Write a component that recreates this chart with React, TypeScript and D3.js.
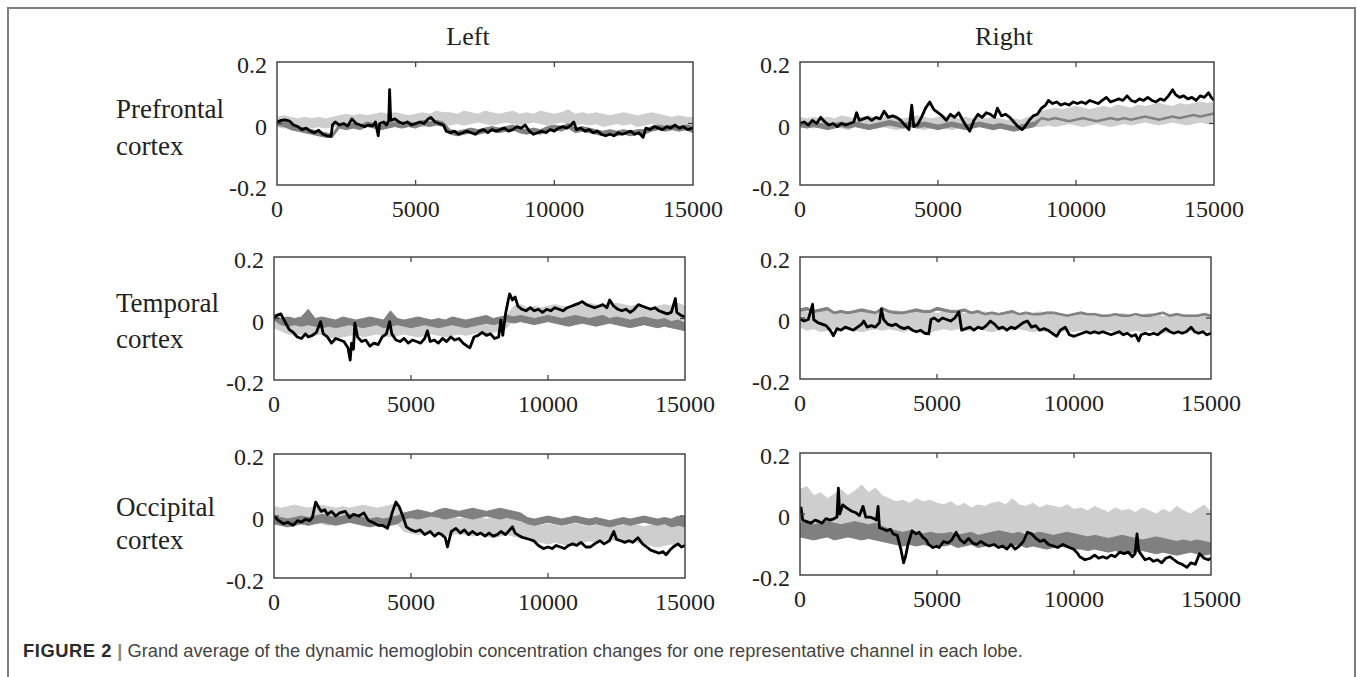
import React from 'react';
import * as d3 from 'd3';

// ---------- data ----------
const X_DOMAIN = [0, 15000];
const Y_DOMAIN = [-0.2, 0.2];
const X_TICKS = [0, 5000, 10000, 15000];
const Y_TICKS = [0.2, 0, -0.2];
const Y_TICK_LABELS = ['0.2', '0', '-0.2'];
const COLUMN_TITLES = ['Left', 'Right'];
const ROW_LABELS = [['Prefrontal', 'cortex'], ['Temporal', 'cortex'], ['Occipital', 'cortex']];
const CAPTION_BOLD = 'FIGURE 2';
const CAPTION_TEXT = 'Grand average of the dynamic hemoglobin concentration changes for one representative channel in each lobe.';
const ENVELOPE_STEP = 250; // samples between envelope readings

// Left prefrontal
const TL_LIGHT_HI = [.02,.025,.02,.015,.02,.015,.02,.015,.02,.025,.03,.025,.03,.025,.03,.035,.03,.035,.03,.025,.03,.035,.03,.04,.035,.035,.03,.04,.035,.03,.04,.035,.03,.035,.04,.03,.035,.03,.04,.035,.03,.035,.045,.03,.035,.03,.035,.03,.025,.03,.035,.03,.025,.03,.035,.03,.025,.02,.025,.02,.02];
const TL_LIGHT_LO = [-.01,-.015,-.01,-.015,-.01,-.015,-.01,-.015,-.01,-.01,-.005,-.01,-.005,-.01,-.005,0,-.005,-.01,-.005,0,-.005,-.01,-.005,0,-.005,-.005,0,-.005,0,.005,0,-.005,0,.005,0,-.005,0,.005,0,-.005,0,.005,0,-.005,0,-.005,0,-.01,-.005,0,-.005,0,-.01,-.005,0,-.005,-.01,-.005,-.01,-.005,-.01];
const TL_DARK_HI = [.01,.005,0,-.01,-.015,-.02,-.025,-.03,-.035,0,-.005,0,-.005,.005,0,-.005,0,.005,0,.005,0,.01,.005,.01,.005,-.02,-.025,-.02,-.015,-.02,-.015,-.01,-.015,-.01,-.005,-.015,-.02,-.015,-.02,-.01,-.005,-.01,0,-.015,-.01,-.015,-.02,-.025,-.02,-.025,-.02,-.025,-.02,-.02,-.01,-.005,-.01,-.005,-.01,-.005,-.01];
const TL_DARK_LO = [-.005,-.01,-.02,-.025,-.03,-.035,-.04,-.045,-.045,-.015,-.02,-.015,-.02,-.01,-.015,-.02,-.015,-.01,-.015,-.01,-.015,-.005,-.01,-.005,-.01,-.035,-.04,-.035,-.03,-.035,-.03,-.025,-.03,-.025,-.02,-.03,-.035,-.03,-.035,-.025,-.02,-.025,-.015,-.03,-.025,-.03,-.035,-.04,-.035,-.04,-.035,-.04,-.035,-.035,-.025,-.02,-.025,-.02,-.025,-.02,-.03];
const TL_BLACK = [[0,.005],[150,.01],[300,.012],[450,.008],[600,-.005],[750,-.01],[900,-.02],[1050,-.015],[1200,-.025],[1350,-.03],[1500,-.022],[1650,-.035],[1800,-.04],[1950,-.042],[2000,-.005],[2100,.005],[2250,-.005],[2400,0],[2550,-.008],[2700,.015],[2850,0],[3000,-.005],[3150,-.01],[3300,-.005],[3450,-.008],[3550,.005],[3650,-.04],[3700,0],[3850,.005],[3950,-.005],[4030,.01],[4060,.11],[4100,.01],[4250,.015],[4400,.005],[4550,0],[4700,.005],[4850,-.005],[5000,0],[5150,.005],[5300,0],[5450,.015],[5550,.02],[5700,.005],[5850,0],[6000,-.005],[6100,-.025],[6250,-.03],[6400,-.025],[6550,-.035],[6700,-.03],[6850,-.025],[7000,-.03],[7150,-.035],[7300,-.025],[7450,-.02],[7600,-.03],[7750,-.02],[7900,-.025],[8050,-.02],[8200,-.015],[8350,-.025],[8500,-.02],[8650,-.01],[8800,-.015],[8950,-.005],[9100,-.025],[9250,-.035],[9400,-.03],[9550,-.025],[9700,-.03],[9850,-.02],[10000,-.025],[10150,-.015],[10300,-.01],[10450,-.015],[10600,-.005],[10700,.005],[10800,-.02],[10950,-.015],[11100,-.025],[11250,-.02],[11400,-.03],[11550,-.025],[11700,-.035],[11850,-.04],[12000,-.035],[12150,-.04],[12300,-.03],[12450,-.035],[12600,-.03],[12750,-.025],[12900,-.035],[13050,-.03],[13200,-.045],[13300,-.015],[13450,-.02],[13600,-.01],[13750,-.015],[13900,-.02],[14050,-.01],[14200,-.015],[14350,-.005],[14500,-.015],[14650,-.01],[14800,-.02],[15000,-.015]];

// Right prefrontal
const TR_LIGHT_HI = [.02,.015,.02,.015,.02,.015,.025,.02,.015,.02,.025,.015,.02,.025,.02,.015,.02,.025,.02,.015,.02,.025,.02,.015,.02,.015,.02,.015,.02,.015,.01,.015,.01,.02,.025,.04,.045,.05,.045,.05,.055,.05,.045,.05,.055,.05,.06,.055,.05,.06,.055,.06,.065,.06,.055,.065,.06,.065,.07,.065,.07];
const TR_LIGHT_LO = [-.015,-.01,-.015,-.01,-.015,-.01,-.015,-.02,-.01,-.015,-.01,-.015,-.01,-.015,-.02,-.015,-.01,-.015,-.02,-.015,-.01,-.015,-.02,-.015,-.01,-.015,-.01,-.015,-.02,-.015,-.02,-.015,-.02,-.015,-.01,-.01,-.005,-.01,-.005,0,-.005,-.01,-.005,0,-.005,-.01,-.005,0,-.005,0,.005,0,-.005,0,.005,0,-.005,0,.005,0,.005];
const TR_DARK_HI = [.005,0,.005,0,-.005,0,.005,0,.005,0,-.005,0,.005,.01,.005,0,.005,0,.005,0,-.005,0,.005,0,-.005,0,.005,0,-.005,0,-.005,-.01,-.005,0,.005,.02,.015,.02,.015,.01,.015,.02,.015,.01,.015,.02,.015,.02,.015,.02,.025,.02,.015,.02,.025,.02,.025,.03,.025,.03,.035];
const TR_DARK_LO = [-.01,-.015,-.01,-.015,-.02,-.015,-.01,-.015,-.01,-.015,-.02,-.015,-.01,-.005,-.01,-.015,-.01,-.015,-.01,-.015,-.02,-.015,-.01,-.015,-.02,-.015,-.01,-.015,-.02,-.015,-.02,-.025,-.02,-.015,-.01,.015,.01,.015,.01,.005,.01,.015,.01,.005,.01,.015,.01,.015,.01,.015,.02,.015,.01,.015,.02,.015,.02,.025,.02,.025,.03];
const TR_BLACK = [[0,0],[150,.005],[300,-.005],[450,.01],[600,0],[750,.02],[900,.005],[1050,-.005],[1200,0],[1350,-.01],[1500,0],[1650,-.005],[1800,0],[1950,.005],[2050,.035],[2150,.01],[2300,.015],[2450,.02],[2600,.01],[2750,.02],[2900,.015],[3050,.04],[3200,.02],[3350,.025],[3500,.02],[3650,.01],[3800,-.005],[3950,-.02],[4050,.06],[4120,-.01],[4250,-.005],[4400,.02],[4550,.05],[4700,.07],[4850,.045],[5000,.035],[5150,.025],[5300,.01],[5450,.03],[5600,.02],[5750,.035],[5900,.01],[6000,-.005],[6150,-.025],[6300,.01],[6450,.03],[6600,.02],[6750,.035],[6900,.03],[7050,.02],[7150,.05],[7300,.025],[7450,.03],[7600,.02],[7750,.005],[7900,-.01],[8050,-.02],[8150,-.01],[8300,.01],[8450,.025],[8600,.03],[8750,.05],[8900,.06],[9000,.075],[9150,.065],[9300,.07],[9450,.06],[9600,.065],[9750,.06],[9900,.07],[10050,.065],[10200,.07],[10350,.065],[10500,.075],[10650,.07],[10800,.065],[10950,.075],[11100,.085],[11250,.07],[11400,.075],[11550,.08],[11700,.075],[11850,.09],[12000,.075],[12150,.07],[12300,.08],[12450,.075],[12600,.085],[12750,.075],[12900,.07],[13050,.08],[13200,.075],[13350,.09],[13500,.11],[13600,.095],[13750,.085],[13900,.09],[14050,.08],[14200,.085],[14350,.075],[14500,.09],[14650,.085],[14800,.1],[14900,.085],[15000,.075]];

// Left temporal
const ML_LIGHT_HI = [.01,0,-.01,-.015,-.01,-.02,-.015,-.01,-.02,-.015,-.02,-.015,-.01,-.02,-.015,-.01,-.015,-.02,-.015,-.01,-.015,-.02,-.015,-.01,-.015,-.02,-.015,-.01,-.015,-.005,-.01,0,-.005,0,.01,.04,.045,.035,.04,.035,.04,.045,.04,.035,.04,.045,.05,.045,.04,.045,.05,.045,.04,.045,.04,.035,.04,.045,.04,.05,.04];
const ML_LIGHT_LO = [-.03,-.04,-.05,-.055,-.05,-.06,-.055,-.05,-.06,-.065,-.06,-.055,-.05,-.06,-.055,-.05,-.055,-.06,-.055,-.05,-.055,-.06,-.055,-.05,-.055,-.06,-.055,-.05,-.055,-.05,-.045,-.05,-.045,-.04,-.03,-.005,0,-.005,0,-.005,0,.005,0,-.005,0,.005,0,-.005,0,.005,0,-.005,0,-.005,-.01,-.005,-.01,-.015,-.02,-.03,-.04];
const ML_DARK_HI = [.015,0,.005,0,.005,.03,0,.005,0,-.005,.005,0,-.005,0,.005,0,-.005,.025,0,-.005,0,.005,0,-.005,0,-.005,.005,0,-.005,0,.005,.01,0,.005,.01,.005,.01,.005,0,.005,.01,.005,0,.005,.01,.005,0,.005,.01,0,.005,0,-.005,0,.005,0,-.005,0,-.01,-.005,-.015];
const ML_DARK_LO = [-.005,-.02,-.025,-.02,-.025,-.02,-.025,-.03,-.025,-.03,-.025,-.02,-.025,-.03,-.025,-.02,-.03,-.025,-.02,-.025,-.03,-.025,-.02,-.025,-.03,-.025,-.02,-.025,-.03,-.025,-.02,-.015,-.02,-.015,-.01,-.015,-.01,-.015,-.02,-.015,-.01,-.015,-.02,-.025,-.02,-.015,-.02,-.025,-.02,-.015,-.02,-.025,-.03,-.025,-.02,-.025,-.03,-.025,-.03,-.035,-.04];
const ML_BLACK = [[0,0],[100,.01],[250,.015],[400,-.01],[550,-.035],[700,-.045],[850,-.06],[1000,-.065],[1150,-.05],[1250,-.06],[1400,-.055],[1550,-.045],[1700,-.01],[1800,-.05],[1950,-.06],[2100,-.08],[2250,-.065],[2400,-.07],[2550,-.075],[2700,-.095],[2780,-.135],[2830,-.08],[2900,-.1],[2950,-.015],[3050,-.06],[3200,-.075],[3350,-.07],[3500,-.09],[3650,-.08],[3800,-.085],[3950,-.06],[4100,-.05],[4220,-.01],[4300,-.05],[4450,-.07],[4600,-.075],[4750,-.065],[4900,-.08],[5050,-.07],[5200,-.075],[5350,-.08],[5500,-.065],[5600,-.04],[5700,-.075],[5850,-.07],[6000,-.08],[6150,-.065],[6300,-.075],[6450,-.06],[6600,-.07],[6750,-.065],[6900,-.08],[7050,-.09],[7150,-.095],[7300,-.06],[7450,-.055],[7600,-.045],[7750,-.055],[7900,-.05],[8050,-.065],[8200,-.06],[8280,-.005],[8350,-.055],[8450,.015],[8550,.06],[8600,.08],[8700,.06],[8800,.07],[8900,.04],[9050,.03],[9200,.025],[9350,.035],[9500,.025],[9650,.03],[9800,.02],[9950,.03],[10100,.025],[10250,.035],[10400,.03],[10550,.025],[10700,.035],[10850,.04],[11000,.045],[11150,.05],[11250,.055],[11400,.045],[11550,.04],[11700,.035],[11850,.04],[12000,.045],[12150,.035],[12250,.06],[12400,.04],[12550,.03],[12700,.025],[12850,.03],[13000,.02],[13150,.03],[13300,.045],[13450,.04],[13600,.035],[13750,.03],[13900,.035],[14050,.025],[14200,.02],[14350,.015],[14500,.02],[14650,.065],[14700,.02],[14850,.01],[15000,.005]];

// Right temporal
const MR_LIGHT_HI = [.025,.02,.015,.02,.025,.02,.015,.02,.015,.02,.025,.02,.015,.02,.025,.02,.015,.02,.025,.02,.015,.02,.025,.02,.015,.02,.015,.02,.015,.01,.015,.02,.015,.01,.015,.02,.015,.01,.015,.01,.015,.02,.01,.015,.01,.005,.01,.015,.01,.005,.01,.015,.01,.005,.01,.015,.01,.005,.01,.015,.01];
const MR_LIGHT_LO = [-.03,-.04,-.035,-.045,-.04,-.035,-.04,-.035,-.04,-.045,-.04,-.035,-.04,-.035,-.04,-.045,-.04,-.045,-.05,-.045,-.04,-.035,-.04,-.035,-.04,-.04,-.035,-.04,-.045,-.04,-.035,-.04,-.035,-.04,-.045,-.04,-.045,-.05,-.045,-.04,-.045,-.04,-.045,-.05,-.045,-.04,-.045,-.05,-.045,-.04,-.045,-.04,-.045,-.05,-.045,-.04,-.045,-.04,-.045,-.04,-.045];
const MR_DARK_HI = [.03,.035,.025,.03,.035,.02,.025,.02,.025,.03,.025,.02,.035,.025,.02,.02,.025,.03,.025,.025,.035,.03,.025,.025,.03,.02,.025,.015,.02,.015,.02,.025,.015,.02,.015,.015,.02,.02,.015,.01,.015,.02,.015,.015,.01,.01,.015,.01,.01,.015,.01,.01,.015,.02,.01,.015,.01,.01,.01,.015,.01];
const MR_DARK_LO = [.022,.026,.018,.022,.026,.014,.018,.014,.018,.022,.018,.014,.026,.018,.014,.014,.018,.022,.018,.018,.026,.022,.018,.018,.022,.014,.018,.01,.014,.01,.014,.018,.01,.014,.01,.01,.014,.014,.01,.005,.01,.014,.01,.01,.005,.005,.01,.005,.005,.01,.005,.005,.01,.014,.005,.01,.005,.005,.005,.01,.005];
const MR_BLACK = [[0,-.003],[150,-.01],[300,-.005],[460,.045],[500,-.005],[650,-.015],[800,-.02],[950,-.025],[1100,-.04],[1220,-.058],[1350,-.035],[1500,-.04],[1650,-.03],[1800,-.035],[1950,-.04],[2100,-.03],[2250,-.02],[2330,-.01],[2450,-.03],[2600,-.025],[2750,-.03],[2900,-.015],[2970,.03],[3050,-.005],[3200,-.02],[3350,-.025],[3500,-.02],[3650,-.03],[3800,-.035],[3950,-.03],[4100,-.04],[4250,-.045],[4400,-.04],[4550,-.05],[4700,-.052],[4780,-.005],[4900,0],[5050,-.01],[5200,0],[5350,-.005],[5500,-.01],[5650,0],[5800,.02],[5900,-.04],[6050,-.035],[6200,-.03],[6350,-.04],[6500,-.03],[6650,-.035],[6800,-.025],[6950,-.01],[7100,-.02],[7250,-.035],[7400,-.03],[7550,-.04],[7700,-.03],[7850,-.035],[8000,-.025],[8150,-.015],[8300,-.01],[8450,-.03],[8600,-.025],[8750,-.04],[8900,-.035],[9050,-.04],[9200,-.05],[9370,-.06],[9500,-.04],[9680,-.03],[9830,-.055],[10000,-.06],[10150,-.055],[10300,-.05],[10450,-.045],[10600,-.05],[10750,-.045],[10900,-.05],[11050,-.045],[11200,-.05],[11350,-.055],[11500,-.05],[11650,-.045],[11800,-.055],[11950,-.05],[12100,-.06],[12250,-.055],[12360,-.075],[12450,-.055],[12600,-.05],[12750,-.055],[12900,-.05],[13050,-.055],[13200,-.045],[13350,-.035],[13500,-.045],[13650,-.05],[13800,-.045],[13950,-.05],[14100,-.045],[14270,-.03],[14400,-.045],[14550,-.05],[14700,-.045],[14850,-.055],[15000,-.05]];

// Left occipital
const BL_LIGHT_HI = [.03,.025,.03,.035,.03,.025,.03,.035,.03,.025,.03,.025,.03,.035,.03,.025,.03,.035,.04,-.005,0,-.01,-.005,0,-.01,-.005,0,-.01,-.005,0,-.005,-.01,-.005,0,-.01,-.005,-.01,-.02,-.025,-.03,-.025,-.03,-.035,-.03,-.025,-.03,-.035,-.03,-.025,-.03,-.035,-.03,-.025,-.03,-.035,-.03,-.025,-.03,-.02,-.025,-.02];
const BL_LIGHT_LO = [-.025,-.03,-.035,-.03,-.025,-.03,-.02,-.025,-.03,-.02,-.025,-.02,-.025,-.03,-.035,-.03,-.035,-.03,-.025,-.05,-.055,-.06,-.055,-.05,-.06,-.065,-.06,-.055,-.06,-.065,-.06,-.065,-.07,-.065,-.06,-.065,-.07,-.075,-.08,-.085,-.09,-.085,-.09,-.095,-.09,-.085,-.08,-.085,-.08,-.075,-.08,-.085,-.08,-.085,-.09,-.095,-.1,-.095,-.09,-.095,-.09];
const BL_DARK_HI = [0,-.005,-.01,-.005,0,-.005,0,.005,0,-.005,0,.005,0,-.005,-.01,-.005,-.01,-.005,0,.01,.015,.02,.015,.01,.02,.025,.02,.015,.02,.025,.02,.015,.02,.025,.02,.015,.01,-.005,-.01,-.005,0,-.005,-.01,-.005,0,-.005,-.01,-.005,-.01,-.015,-.01,-.005,-.01,-.005,0,-.005,-.01,-.005,-.01,0,-.005];
const BL_DARK_LO = [-.025,-.03,-.035,-.03,-.025,-.03,-.025,-.02,-.025,-.03,-.025,-.02,-.025,-.03,-.035,-.03,-.035,-.03,-.025,-.01,-.005,-.01,-.005,0,-.005,-.01,-.005,0,-.005,-.01,-.005,0,-.005,-.01,-.005,-.01,-.015,-.025,-.03,-.025,-.02,-.025,-.03,-.025,-.02,-.025,-.03,-.025,-.03,-.035,-.03,-.025,-.03,-.025,-.02,-.025,-.03,-.025,-.035,-.03,-.035];
const BL_BLACK = [[0,0],[170,-.015],[350,-.025],[500,-.02],[700,-.03],[860,-.015],[1000,-.02],[1150,-.01],[1300,-.015],[1400,-.005],[1520,.045],[1650,.025],[1720,.015],[1850,.02],[1950,.005],[2100,.015],[2250,0],[2400,.01],[2600,.015],[2750,-.005],[2900,.005],[3100,0],[3280,.01],[3450,-.015],[3600,-.02],[3800,-.03],[3970,-.03],[4140,-.04],[4250,-.01],[4310,.01],[4450,.045],[4570,.03],[4700,0],[4830,-.035],[5000,-.045],[5170,-.05],[5340,-.045],[5500,-.06],[5700,-.05],[5860,-.065],[6000,-.055],[6120,-.06],[6250,-.07],[6330,-.1],[6470,-.05],[6640,-.04],[6800,-.055],[6950,-.045],[7100,-.06],[7240,-.05],[7410,-.06],[7550,-.055],[7700,-.065],[7850,-.055],[8000,-.065],[8150,-.06],[8280,-.05],[8450,-.06],[8600,-.045],[8700,-.035],[8800,-.055],[8970,-.065],[9100,-.07],[9310,-.075],[9480,-.08],[9650,-.095],[9830,-.105],[10000,-.1],[10150,-.105],[10300,-.095],[10450,-.1],[10600,-.105],[10750,-.095],[10900,-.09],[11050,-.095],[11200,-.085],[11380,-.1],[11550,-.1],[11700,-.09],[11900,-.08],[12050,-.09],[12240,-.08],[12400,-.05],[12500,-.075],[12650,-.08],[12800,-.085],[12950,-.08],[13100,-.085],[13280,-.07],[13450,-.09],[13600,-.1],[13750,-.11],[13900,-.115],[14050,-.12],[14200,-.115],[14310,-.125],[14450,-.11],[14570,-.1],[14740,-.09],[14870,-.1],[15000,-.095]];

// Right occipital
const BR_LIGHT_HI = [.08,.09,.06,.07,.05,.065,.08,.06,.075,.095,.07,.085,.06,.05,.04,.045,.035,.05,.04,.045,.035,.03,.04,.025,.035,.02,.03,.025,.035,.04,.03,.05,.03,.025,.035,.02,.03,.025,.02,.03,.015,.02,.01,.025,.015,.005,.02,.01,.015,.005,.02,.01,0,.015,.005,.025,.01,0,.015,.03,.005];
const BR_LIGHT_LO = [-.05,-.06,-.07,-.065,-.06,-.07,-.065,-.06,-.07,-.065,-.06,-.07,-.065,-.07,-.075,-.08,-.075,-.08,-.085,-.08,-.085,-.085,-.09,-.085,-.09,-.095,-.09,-.085,-.09,-.095,-.09,-.085,-.09,-.095,-.1,-.095,-.09,-.095,-.1,-.095,-.1,-.1,-.105,-.1,-.11,-.105,-.1,-.105,-.11,-.105,-.1,-.105,-.11,-.105,-.11,-.115,-.11,-.105,-.11,-.115,-.11];
const BR_DARK_HI = [-.03,-.025,-.035,-.03,-.025,-.03,-.035,-.03,-.025,-.03,-.035,-.03,-.04,-.05,-.055,-.06,-.055,-.06,-.065,-.06,-.065,-.065,-.06,-.07,-.065,-.06,-.07,-.065,-.06,-.055,-.06,-.065,-.06,-.07,-.065,-.06,-.065,-.07,-.065,-.06,-.065,-.07,-.075,-.07,-.075,-.08,-.075,-.07,-.075,-.08,-.085,-.08,-.075,-.08,-.085,-.09,-.085,-.09,-.085,-.09,-.095];
const BR_DARK_LO = [-.075,-.08,-.085,-.08,-.075,-.085,-.08,-.075,-.08,-.085,-.08,-.085,-.09,-.095,-.1,-.105,-.1,-.105,-.1,-.105,-.1,-.105,-.1,-.11,-.105,-.1,-.11,-.105,-.1,-.105,-.11,-.105,-.1,-.11,-.105,-.11,-.115,-.11,-.105,-.11,-.115,-.115,-.12,-.115,-.12,-.125,-.12,-.125,-.13,-.125,-.12,-.125,-.13,-.125,-.13,-.135,-.13,-.125,-.13,-.135,-.13];
const BR_BLACK = [[0,0],[40,.02],[100,-.02],[250,-.025],[400,-.03],[550,-.02],[700,-.025],[800,-.03],[950,-.015],[1100,-.02],[1250,-.015],[1350,-.01],[1400,.085],[1450,0],[1560,.03],[1700,.02],[1870,.01],[2020,.005],[2170,-.005],[2300,.025],[2400,-.01],[2550,-.01],[2700,-.015],[2790,-.02],[2850,.025],[2900,-.045],[3050,-.05],[3170,-.055],[3300,-.05],[3400,-.065],[3550,-.07],[3680,-.115],[3780,-.16],[3850,-.14],[3940,-.1],[4090,-.055],[4240,-.065],[4350,-.06],[4470,-.075],[4600,-.085],[4700,-.1],[4850,-.11],[5000,-.105],[5080,-.11],[5240,-.09],[5400,-.095],[5540,-.085],[5700,-.06],[5850,-.085],[6000,-.095],[6150,-.08],[6300,-.095],[6450,-.1],[6600,-.09],[6770,-.1],[6900,-.105],[7080,-.1],[7250,-.11],[7400,-.105],[7550,-.115],[7700,-.1],[7850,-.115],[8000,-.105],[8150,-.09],[8300,-.06],[8450,-.065],[8610,-.08],[8760,-.09],[8910,-.085],[9070,-.1],[9250,-.105],[9400,-.11],[9600,-.1],[9830,-.11],[9980,-.115],[10140,-.13],[10210,-.14],[10400,-.15],[10600,-.145],[10750,-.135],[10900,-.145],[11050,-.14],[11200,-.145],[11360,-.135],[11500,-.14],[11670,-.125],[11830,-.13],[11980,-.125],[12130,-.14],[12230,-.13],[12300,-.065],[12360,-.12],[12430,-.13],[12590,-.15],[12750,-.145],[12900,-.155],[13050,-.15],[13200,-.16],[13350,-.145],[13500,-.14],[13650,-.15],[13800,-.16],[13950,-.165],[14120,-.175],[14270,-.16],[14430,-.165],[14580,-.13],[14750,-.145],[14900,-.15],[15000,-.145]];

const PANELS = [
  { id: 'tl', light: [TL_LIGHT_HI, TL_LIGHT_LO], dark: [TL_DARK_HI, TL_DARK_LO], black: TL_BLACK },
  { id: 'tr', light: [TR_LIGHT_HI, TR_LIGHT_LO], dark: [TR_DARK_HI, TR_DARK_LO], black: TR_BLACK },
  { id: 'ml', light: [ML_LIGHT_HI, ML_LIGHT_LO], dark: [ML_DARK_HI, ML_DARK_LO], black: ML_BLACK },
  { id: 'mr', light: [MR_LIGHT_HI, MR_LIGHT_LO], dark: [MR_DARK_HI, MR_DARK_LO], black: MR_BLACK },
  { id: 'bl', light: [BL_LIGHT_HI, BL_LIGHT_LO], dark: [BL_DARK_HI, BL_DARK_LO], black: BL_BLACK },
  { id: 'br', light: [BR_LIGHT_HI, BR_LIGHT_LO], dark: [BR_DARK_HI, BR_DARK_LO], black: BR_BLACK },
];

// ---------- layout ----------
const W = 1357;
const H = 677;
const BOXES: Record<string, { left: number; top: number; right: number; bottom: number }> = {
  tl: { left: 277, top: 62, right: 693, bottom: 185 },
  tr: { left: 800, top: 62, right: 1214, bottom: 185 },
  ml: { left: 274, top: 257, right: 685, bottom: 380 },
  mr: { left: 800, top: 257, right: 1211, bottom: 379 },
  bl: { left: 274, top: 454, right: 685, bottom: 578 },
  br: { left: 800, top: 453, right: 1211, bottom: 575 },
};
const TITLE_X = [468, 1004];
const ROW_BASELINES = [[118, 155], [312, 348], [516, 549]];
const SERIF = "'Liberation Serif', 'Times New Roman', Times, serif";
const SANS = "'Liberation Sans', Arial, Helvetica, sans-serif";
const LIGHT = '#cecece';
const DARK = '#808080';

function Panel({ p }: { p: any }) {
  const box = BOXES[p.id];
  const x = d3.scaleLinear().domain(X_DOMAIN).range([box.left, box.right]);
  const y = d3.scaleLinear().domain(Y_DOMAIN).range([box.bottom, box.top]);
  const band = (hi: number[], lo: number[]) => {
    const n = Math.min(hi.length, lo.length);
    return d3.area<number>()
      .x((_, i) => x(i * ENVELOPE_STEP))
      .y0((_, i) => y(lo[i]))
      .y1((d) => y(d))(hi.slice(0, n)) || '';
  };
  const line = d3.line<number[]>().x((d) => x(d[0])).y((d) => y(d[1]));
  const clip = `clip-${p.id}`;
  const innerX = X_TICKS.filter((t) => t > X_DOMAIN[0] && t < X_DOMAIN[1]);
  return (
    <g>
      <defs>
        <clipPath id={clip}>
          <rect x={box.left} y={box.top} width={box.right - box.left} height={box.bottom - box.top} />
        </clipPath>
      </defs>
      <g clipPath={`url(#${clip})`}>
        <path d={band(p.light[0], p.light[1])} fill={LIGHT} stroke={LIGHT} strokeWidth={1} />
        <path d={band(p.dark[0], p.dark[1])} fill={DARK} stroke={DARK} strokeWidth={1} />
        <path d={line(p.black) || ''} fill="none" stroke="#000" strokeWidth={2.8} strokeLinejoin="round" />
      </g>
      <rect x={box.left} y={box.top} width={box.right - box.left} height={box.bottom - box.top}
        fill="none" stroke="#3a3a3a" strokeWidth={1.4} />
      {innerX.map((t) => (
        <g key={t} stroke="#3a3a3a" strokeWidth={1.2}>
          <line x1={x(t)} x2={x(t)} y1={box.bottom} y2={box.bottom - 5} />
          <line x1={x(t)} x2={x(t)} y1={box.top} y2={box.top + 5} />
        </g>
      ))}
      <g stroke="#3a3a3a" strokeWidth={1.2}>
        <line x1={box.left} x2={box.left + 5} y1={y(0)} y2={y(0)} />
        <line x1={box.right} x2={box.right - 5} y1={y(0)} y2={y(0)} />
      </g>
      {X_TICKS.map((t) => (
        <text key={t} x={x(t)} y={box.bottom + 32} textAnchor="middle" fontFamily={SERIF} fontSize={24} fill="#222">
          {String(t)}
        </text>
      ))}
      {Y_TICKS.map((t, i) => (
        <text key={t} x={box.left - 10} y={y(t) + 11} textAnchor="end" fontFamily={SERIF} fontSize={24} fill="#222">
          {Y_TICK_LABELS[i]}
        </text>
      ))}
    </g>
  );
}

export default function App() {
  return (
    <svg width={W} height={H} style={{ position: 'absolute', left: 0, top: 0, background: '#fff' }}>
      <rect x={0} y={0} width={W} height={H} fill="#fff" />
      <rect x={8} y={8} width={1347} height={720} fill="none" stroke="#7d7d7d" strokeWidth={2} />
      {COLUMN_TITLES.map((t, i) => (
        <text key={t} x={TITLE_X[i]} y={45} textAnchor="middle" fontFamily={SERIF} fontSize={26} fill="#222">{t}</text>
      ))}
      {ROW_LABELS.map((lines, r) => (
        <g key={r}>
          {lines.map((s, k) => (
            <text key={k} x={116} y={ROW_BASELINES[r][k]} fontFamily={SERIF} fontSize={27} fill="#222">{s}</text>
          ))}
        </g>
      ))}
      {PANELS.map((p) => <Panel key={p.id} p={p} />)}
      <text x={23} y={657} fontFamily={SANS} fontSize={18.3} fill="#444">
        <tspan fontWeight="bold" fill="#2a2a2a" letterSpacing={0.6}>{CAPTION_BOLD}</tspan>
        <tspan fontWeight="bold" fill="#8a8a8a"> | </tspan>
        <tspan>{CAPTION_TEXT}</tspan>
      </text>
    </svg>
  );
}
